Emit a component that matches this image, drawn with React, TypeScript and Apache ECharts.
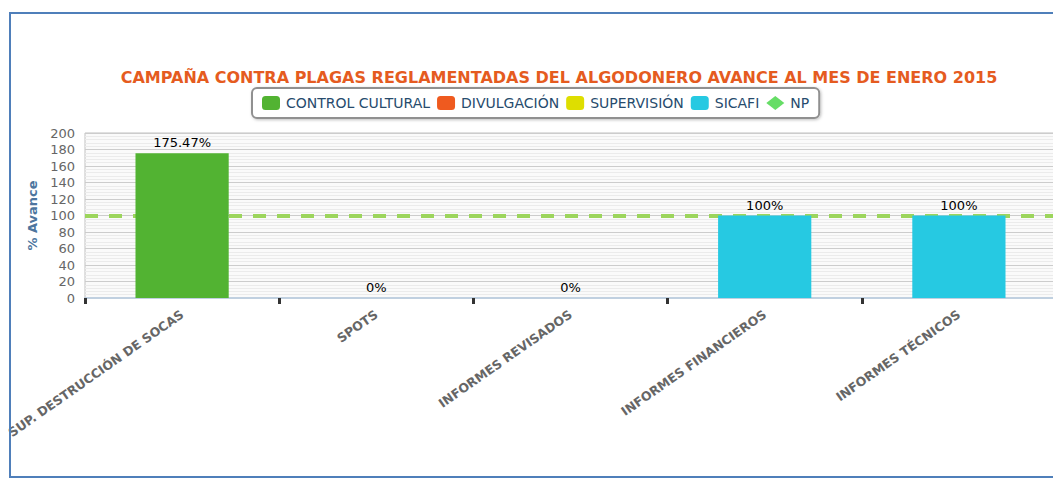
import React, { useEffect, useRef } from "react";
import * as echarts from "echarts";

const titleText = "CAMPAÑA CONTRA PLAGAS REGLAMENTADAS DEL ALGODONERO AVANCE AL MES DE ENERO 2015";
const categories = [
  "SUP. DESTRUCCIÓN DE SOCAS",
  "SPOTS",
  "INFORMES REVISADOS",
  "INFORMES FINANCIEROS",
  "INFORMES TÉCNICOS",
];
const controlCultural = [175.47, "-", "-", "-", "-"];
const divulgacion = ["-", 0, "-", "-", "-"];
const supervision = ["-", "-", 0, "-", "-"];
const sicafi = ["-", "-", "-", 100, 100];
const npValue = 100;
const yTicks = { min: 0, max: 200, interval: 20 };

const FONT = "DejaVu Sans";

export default function App() {
  const ref = useRef<HTMLDivElement>(null);
  useEffect(() => {
    document.body.style.margin = "0";
    const chart = echarts.init(ref.current!, null, { renderer: "svg" });
    const barLabel = {
      show: true,
      position: "top",
      distance: 4,
      color: "#000",
      fontFamily: FONT,
      fontSize: 13,
      formatter: (p: any) => p.value + "%",
    };
    const barSeries = (name: string, data: any[], color: string) => ({
      name,
      type: "bar",
      stack: "one",
      data,
      barWidth: "48%",
      z: 3,
      itemStyle: { color },
      label: barLabel,
    });
    chart.setOption({
      animation: false,
      textStyle: { fontFamily: FONT },
      title: {
        text: titleText,
        left: 559,
        top: 69,
        textAlign: "center",
        padding: 0,
        textStyle: { color: "#e55b20", fontSize: 16, fontWeight: "bold", fontFamily: FONT },
      },
      legend: {
        left: 252,
        top: 88,
        padding: [8, 10, 8, 10],
        itemGap: 7,
        itemWidth: 18,
        itemHeight: 14,
        borderColor: "#909090",
        borderWidth: 2,
        borderRadius: 5,
        backgroundColor: "#ffffff",
        shadowColor: "rgba(0,0,0,0.25)",
        shadowBlur: 3,
        shadowOffsetX: 1,
        shadowOffsetY: 1,
        textStyle: { color: "#274b6d", fontSize: 14, fontFamily: FONT, padding: [0, 0, 0, 1] },
        data: [
          { name: "CONTROL CULTURAL", icon: "roundRect" },
          { name: "DIVULGACIÓN", icon: "roundRect" },
          { name: "SUPERVISIÓN", icon: "roundRect" },
          { name: "SICAFI", icon: "roundRect" },
          { name: "NP", icon: "diamond" },
        ],
      },
      grid: {
        left: 85,
        right: 54,
        top: 133,
        bottom: 181,
        show: true,
        backgroundColor: "#fafafa",
        borderColor: "#c0c0c0",
        borderWidth: 1,
      },
      xAxis: {
        type: "category",
        data: categories,
        axisLine: { lineStyle: { color: "#c0d0e0", width: 2 } },
        axisTick: { show: true, length: 6, lineStyle: { color: "#333333", width: 3 } },
        axisLabel: {
          rotate: 35,
          margin: 15,
          color: "#666666",
          fontSize: 12.5,
          fontWeight: "bold",
          fontFamily: FONT,
          interval: 0,
        },
      },
      yAxis: {
        type: "value",
        min: yTicks.min,
        max: yTicks.max,
        interval: yTicks.interval,
        name: "% Avance",
        nameLocation: "middle",
        nameGap: 40,
        nameTextStyle: { color: "#4d759e", fontSize: 13, fontWeight: "bold", fontFamily: FONT },
        axisLine: { show: false },
        axisTick: { show: false },
        axisLabel: { color: "#666666", fontSize: 13, margin: 10, fontFamily: FONT },
        splitLine: { lineStyle: { color: "#cccccc", width: 1 } },
        minorTick: { show: false, splitNumber: 5 },
        minorSplitLine: { show: true, lineStyle: { color: "#ebebeb", width: 1 } },
      },
      series: [
        barSeries("CONTROL CULTURAL", controlCultural, "#52b332"),
        barSeries("DIVULGACIÓN", divulgacion, "#ef5a1f"),
        barSeries("SUPERVISIÓN", supervision, "#dede00"),
        barSeries("SICAFI", sicafi, "#26c9e2"),
        {
          name: "NP",
          type: "line",
          data: [],
          z: 1,
          itemStyle: { color: "#66dd66" },
          markLine: {
            silent: true,
            z: 1,
            symbol: "none",
            label: { show: false },
            lineStyle: { color: "#9cd55c", width: 4, type: [13, 11] },
            data: [{ yAxis: npValue }],
          },
        },
      ],
      graphic: [
        {
          type: "rect",
          shape: { x: 10, y: 13, width: 1100, height: 464 },
          style: { fill: "none", stroke: "#4f7fba", lineWidth: 2 },
          silent: true,
          z: 100,
        },
      ],
    });
    return () => chart.dispose();
  }, []);
  return (
    <div style={{ width: 1053, height: 479, overflow: "hidden", position: "relative" }}>
      <div ref={ref} style={{ width: 1110, height: 479 }} />
    </div>
  );
}
